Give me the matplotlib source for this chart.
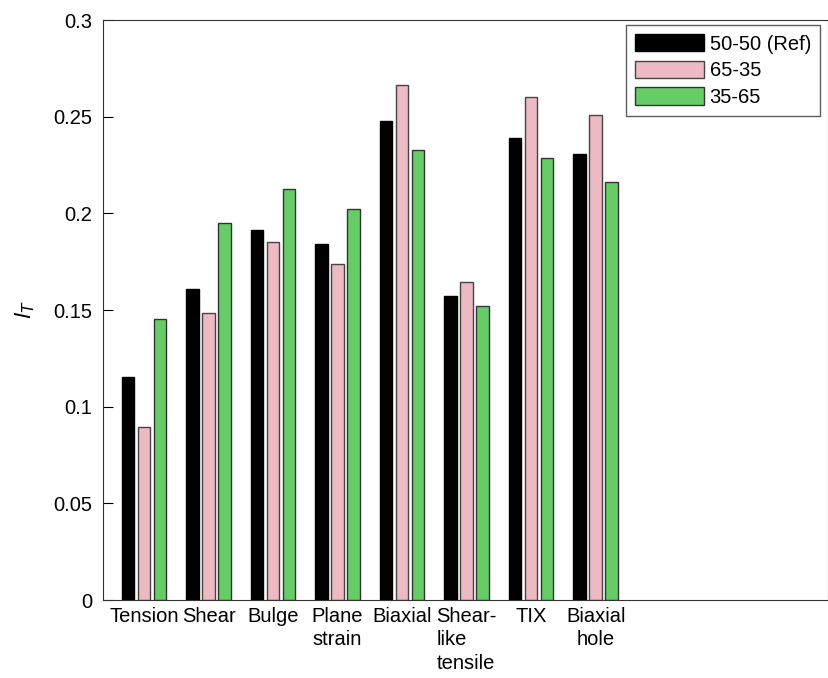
import numpy as np
import matplotlib
matplotlib.use('Agg')
import matplotlib.pyplot as plt

plt.rcParams['font.family'] = ['Liberation Sans', 'DejaVu Sans']

categories = ['Tension', 'Shear', 'Bulge', 'Plane\nstrain', 'Biaxial',
              'Shear-\nlike\ntensile', 'TIX', 'Biaxial\nhole']
series_names = ['50-50 (Ref)', '65-35', '35-65']
ref_50_50 = [0.1152, 0.1611, 0.1914, 0.1843, 0.2478, 0.1574, 0.2392, 0.2309]
mix_65_35 = [0.0895, 0.1485, 0.1852, 0.1740, 0.2666, 0.1647, 0.2601, 0.2508]
mix_35_65 = [0.1455, 0.1952, 0.2126, 0.2023, 0.2330, 0.1523, 0.2287, 0.2163]

colors = ['#000000', '#EDB9C3', '#66CC66']
edges = ['#000000', '#444444', '#333333']

fig = plt.figure(figsize=(8.29, 6.78), dpi=100)
ax = fig.add_axes([103.5 / 829, 1 - 600 / 678, (828 - 103.5) / 829, 580 / 678])

x = np.arange(1, len(categories) + 1)
for i, (vals, name) in enumerate(zip([ref_50_50, mix_65_35, mix_35_65], series_names)):
    ax.bar(x + (i - 1) * 0.248, vals, width=0.195, color=colors[i],
           edgecolor=edges[i], linewidth=1.0, label=name)

ax.set_xlim(0.372, 11.6)
ax.set_ylim(0, 0.3)
ax.set_yticks([0, 0.05, 0.1, 0.15, 0.2, 0.25, 0.3])
ax.set_yticklabels(['0', '0.05', '0.1', '0.15', '0.2', '0.25', '0.3'])
ax.set_xticks(x)
ax.set_xticklabels(categories, linespacing=1.3)
ax.get_xticklabels()[5].set_multialignment('left')
ax.tick_params(axis='x', length=0, pad=5, labelsize=14.5)
ax.tick_params(axis='y', direction='in', length=7, pad=8, labelsize=14.5, right=False)
for s in ax.spines.values():
    s.set_color('#333333')
ax.set_ylabel(r'$l_T$', fontsize=16, labelpad=12)

leg = ax.legend(loc='upper right', fontsize=14.5, frameon=True, fancybox=False,
                edgecolor='#333333', handlelength=3.4, handleheight=0.95,
                handletextpad=0.3, borderpad=0.45, labelspacing=0.35,
                borderaxespad=0, bbox_to_anchor=(1 - 8 / 724.5, 1 - 5 / 580))
leg.get_frame().set_linewidth(1.0)

fig.savefig('out.png', dpi=100)
